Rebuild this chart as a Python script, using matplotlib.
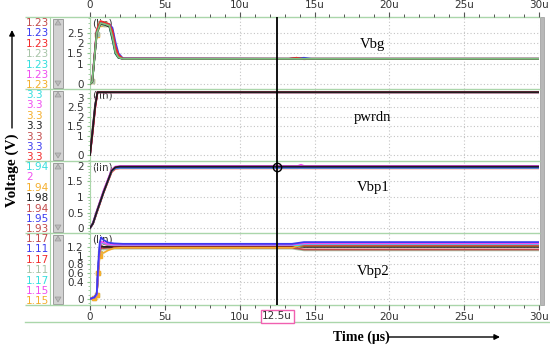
import matplotlib
matplotlib.use("Agg")
import matplotlib.pyplot as plt
from matplotlib.patches import Rectangle, Polygon
from matplotlib.ticker import MultipleLocator

# ---------------- data ----------------
x_ticks = [0, 5, 10, 15, 20, 25, 30]
x_tick_labels = ["0", "5u", "10u", "15u", "20u", "25u", "30u"]
cursor_time = 12.5
cursor_label = "12.5u"
signal_names = ["Vbg", "pwrdn", "Vbp1", "Vbp2"]

C_IRED = '#c24a4a'; C_BLUE = '#3c3cf0'; C_RED = '#f22a2a'; C_LGRN = '#a8c4a8'
C_CYAN = '#35dede'; C_MAG = '#f04ef0'; C_ORNG = '#f4ae2c'; C_BLK = '#1e1e1e'
C_GRN = '#7fbf7f'; C_SALM = '#ff9a8a'

# Vbg (V) vs time (us)
vbg_time = [0.0, 0.15, 0.45, 0.7, 1.0, 1.3, 1.5, 1.7, 1.9, 2.2, 13.3, 13.8, 14.3, 14.8, 30.0]
vbg_colors = [C_ORNG, C_MAG, C_CYAN, C_LGRN, C_IRED, C_BLUE, C_RED, C_BLK, C_GRN]
vbg_values = [
    [0.0, 0.15, 2.40, 2.95, 2.95, 2.90, 2.65, 1.80, 1.40, 1.24, 1.23, 1.23, 1.23, 1.23, 1.23],
    [0.0, 0.20, 2.60, 3.05, 2.97, 2.88, 2.40, 1.60, 1.32, 1.23, 1.23, 1.27, 1.22, 1.23, 1.23],
    [0.0, 0.10, 2.50, 3.00, 2.93, 2.82, 2.15, 1.48, 1.28, 1.23, 1.23, 1.23, 1.23, 1.23, 1.23],
    [0.0, 0.15, 2.45, 2.98, 2.95, 2.88, 2.50, 1.65, 1.33, 1.23, 1.23, 1.23, 1.23, 1.23, 1.23],
    [0.0, 0.12, 2.55, 3.02, 2.96, 2.86, 2.35, 1.62, 1.31, 1.23, 1.23, 1.28, 1.21, 1.23, 1.23],
    [0.0, 0.10, 2.55, 3.00, 2.96, 2.92, 2.75, 2.05, 1.50, 1.25, 1.23, 1.25, 1.28, 1.23, 1.23],
    [0.0, 0.10, 2.65, 3.08, 3.00, 2.92, 2.60, 1.85, 1.42, 1.24, 1.23, 1.28, 1.22, 1.23, 1.23],
    [0.0, 0.10, 2.50, 2.95, 2.90, 2.80, 2.20, 1.50, 1.28, 1.23, 1.23, 1.23, 1.23, 1.23, 1.23],
    [0.0, 0.12, 2.50, 2.98, 2.93, 2.85, 2.30, 1.55, 1.30, 1.23, 1.23, 1.23, 1.23, 1.23, 1.23],
]
vbg_readout = ["1.23", "1.23", "1.23", "1.23", "1.23", "1.23", "1.23"]
vbg_readout_colors = [C_IRED, C_BLUE, C_RED, C_LGRN, C_CYAN, C_MAG, C_ORNG]

# pwrdn
pwrdn_time = [0.0, 0.15, 0.35, 0.5, 30.0]
pwrdn_colors = [C_CYAN, C_MAG, C_ORNG, C_IRED, C_BLUE, C_RED, C_BLK]
pwrdn_values = [
    [0.0, 1.10, 2.60, 3.3, 3.3],
    [0.0, 1.00, 2.50, 3.3, 3.3],
    [0.0, 1.20, 2.70, 3.3, 3.3],
    [0.0, 1.05, 2.55, 3.3, 3.3],
    [0.0, 1.15, 2.65, 3.3, 3.3],
    [0.0, 1.00, 2.50, 3.3, 3.3],
    [0.0, 1.10, 2.60, 3.3, 3.3],
]
pwrdn_readout = ["3.3", "3.3", "3.3", "3.3", "3.3", "3.3", "3.3"]
pwrdn_readout_colors = [C_CYAN, C_MAG, C_ORNG, C_BLK, C_IRED, C_BLUE, C_RED]

# Vbp1
vbp1_time = [0.0, 0.2, 0.45, 0.9, 1.45, 1.7, 2.0, 13.9, 14.1, 14.3, 30.0]
vbp1_colors = [C_SALM, C_RED, C_IRED, C_ORNG, C_CYAN, C_BLUE, C_MAG, C_BLK]
vbp1_values = [
    [0.0, 0.13, 0.48, 1.12, 1.80, 1.90, 1.92, 1.92, 1.92, 1.92, 1.92],
    [0.0, 0.14, 0.50, 1.14, 1.82, 1.92, 1.93, 1.93, 1.96, 1.93, 1.93],
    [0.0, 0.15, 0.50, 1.15, 1.83, 1.93, 1.94, 1.94, 1.94, 1.94, 1.94],
    [0.0, 0.15, 0.52, 1.16, 1.84, 1.93, 1.94, 1.94, 1.94, 1.94, 1.94],
    [0.0, 0.16, 0.53, 1.17, 1.85, 1.93, 1.94, 1.94, 1.94, 1.94, 1.94],
    [0.0, 0.15, 0.52, 1.16, 1.85, 1.94, 1.95, 1.95, 1.95, 1.95, 1.95],
    [0.0, 0.17, 0.55, 1.20, 1.88, 1.98, 2.00, 2.00, 2.04, 2.00, 2.00],
    [0.0, 0.15, 0.52, 1.15, 1.85, 1.96, 1.98, 1.98, 1.98, 1.98, 1.98],
]
vbp1_readout = ["1.94", "2", "1.94", "1.98", "1.94", "1.95", "1.93"]
vbp1_readout_colors = [C_CYAN, C_MAG, C_ORNG, C_BLK, C_IRED, C_BLUE, C_IRED]

# Vbp2
vbp2_time = [0.0, 0.3, 0.45, 0.55, 0.65, 0.75, 0.9, 1.2, 1.6, 2.2, 13.5, 13.9, 14.3, 14.8, 30.0]
vbp2_colors = [C_LGRN, C_IRED, C_BLK, C_ORNG, C_RED, C_CYAN, C_MAG, C_BLUE]
vbp2_values = [
    [0.0, 0.03, 0.10, 0.60, 1.05, 1.15, 1.14, 1.15, 1.16, 1.16, 1.16, 1.14, 1.12, 1.12, 1.12],
    [0.0, 0.03, 0.10, 0.65, 1.10, 1.18, 1.17, 1.18, 1.18, 1.18, 1.18, 1.16, 1.14, 1.14, 1.14],
    [0.0, 0.04, 0.10, 0.70, 1.15, 1.22, 1.20, 1.20, 1.20, 1.20, 1.20, 1.21, 1.20, 1.20, 1.20],
    [0.0, 0.03, 0.08, 0.60, 1.00, 1.08, 1.06, 1.12, 1.17, 1.18, 1.18, 1.22, 1.23, 1.23, 1.23],
    [0.0, 0.03, 0.10, 0.65, 1.15, 1.30, 1.27, 1.24, 1.23, 1.23, 1.23, 1.25, 1.24, 1.24, 1.24],
    [0.0, 0.04, 0.10, 0.70, 1.20, 1.30, 1.28, 1.25, 1.24, 1.24, 1.24, 1.24, 1.26, 1.26, 1.26],
    [0.0, 0.04, 0.10, 0.70, 1.20, 1.32, 1.30, 1.26, 1.25, 1.25, 1.25, 1.27, 1.28, 1.28, 1.28],
    [0.0, 0.04, 0.12, 0.80, 1.30, 1.42, 1.36, 1.30, 1.28, 1.27, 1.27, 1.29, 1.31, 1.31, 1.31],
]
vbp2_readout = ["1.17", "1.11", "1.17", "1.11", "1.17", "1.15", "1.15"]
vbp2_readout_colors = [C_IRED, C_BLUE, C_RED, C_LGRN, C_CYAN, C_MAG, C_ORNG]

# per-panel y ranges / ticks
y_limits = [(-0.25, 3.28), (-0.32, 3.47), (-0.16, 2.16), (-0.14, 1.52)]
y_ticks = [[0, 1, 1.5, 2, 2.5], [0, 1, 1.5, 2, 2.5, 3], [0, 0.5, 1, 1.5, 2], [0, 0.4, 0.6, 0.8, 1, 1.2]]
y_tick_labels = [["0", "1", "1.5", "2", "2.5"], ["0", "1", "1.5", "2", "2.5", "3"],
                 ["0", "0.5", "1", "1.5", "2"], ["0", "0.4", "0.6", "0.8", "1", "1.2"]]
y_minor = [0.25, 0.25, 0.1, 0.1]

# ---------------- layout ----------------
W, H = 550, 348
fig = plt.figure(figsize=(5.5, 3.48), dpi=100)
fig.patch.set_facecolor('white')

def fbox(x0, y0, x1, y1):
    return [x0 / W, 1 - y1 / H, (x1 - x0) / W, (y1 - y0) / H]

SEP = '#aad6aa'
TXT = '#333333'
SANS = 'DejaVu Sans'
SERIF = 'Liberation Serif'

ov = fig.add_axes([0, 0, 1, 1])
ov.set_xlim(0, W); ov.set_ylim(H, 0); ov.axis('off'); ov.set_zorder(0)

AX_L, AX_R = 90, 539
panel_tops = [17, 89, 161, 233]
PH = 72

for y in [17, 89, 161, 233, 305]:
    ov.plot([25, 540], [y, y], color=SEP, lw=1.0, solid_capstyle='butt')
ov.plot([25, 550], [322, 322], color=SEP, lw=1.0)
ov.plot([50, 50], [17, 305], color=SEP, lw=0.8)
ov.add_patch(Rectangle((539.5, 17), 4, 288, facecolor='#b8b8b8', edgecolor='#9a9a9a', lw=0.5))

for top in panel_tops:
    ov.add_patch(Rectangle((53, top + 1.5), 10, PH - 3, facecolor='#d2d2d2', edgecolor='#9c9c9c', lw=0.7))
    ov.add_patch(Polygon([[55, top + 8], [61, top + 8], [58, top + 3]], closed=True, facecolor='#bbbbbb', edgecolor='#999999', lw=0.5))
    ov.add_patch(Polygon([[55, top + PH - 8], [61, top + PH - 8], [58, top + PH - 3]], closed=True, facecolor='#bbbbbb', edgecolor='#999999', lw=0.5))

times = [vbg_time, pwrdn_time, vbp1_time, vbp2_time]
values = [vbg_values, pwrdn_values, vbp1_values, vbp2_values]
colors = [vbg_colors, pwrdn_colors, vbp1_colors, vbp2_colors]
readouts = [vbg_readout, pwrdn_readout, vbp1_readout, vbp2_readout]
readout_colors = [vbg_readout_colors, pwrdn_readout_colors, vbp1_readout_colors, vbp2_readout_colors]
name_pos = [(0.63, 0.62), (0.63, 0.61), (0.63, 0.63), (0.63, 0.46)]

axes = []
for i, top in enumerate(panel_tops):
    ax = fig.add_axes(fbox(AX_L, top, AX_R, top + PH))
    ax.set_zorder(2)
    ax.set_facecolor('none')
    ax.set_xlim(0, 30)
    ax.set_ylim(*y_limits[i])
    for s in ax.spines.values():
        s.set_visible(False)
    ax.spines['left'].set_visible(True)
    ax.spines['left'].set_color(SEP)
    ax.set_yticks(y_ticks[i])
    ax.set_yticklabels(y_tick_labels[i])
    ax.yaxis.set_minor_locator(MultipleLocator(y_minor[i]))
    ax.tick_params(axis='y', which='major', length=2.5, width=0.8, color='#8fc88f',
                   labelsize=7.5, labelcolor=TXT, pad=2)
    ax.tick_params(axis='y', which='minor', length=1.5, width=0.6, color='#8fc88f')
    ax.set_xticks(x_ticks)
    ax.xaxis.set_minor_locator(MultipleLocator(1))
    ax.grid(True, which='major', color='#c4c4c4', linestyle=(0, (1, 2)), lw=0.8)
    if i in (0, 3):
        top_side = (i == 0)
        ax.tick_params(axis='x', which='both', top=top_side, bottom=not top_side,
                       labeltop=top_side, labelbottom=not top_side, direction='out',
                       color='#555555', labelsize=7.5, labelcolor=TXT, pad=1.5)
        ax.tick_params(axis='x', which='major', length=3.5, width=0.8)
        ax.tick_params(axis='x', which='minor', length=2.2, width=0.7)
        ax.set_xticklabels(x_tick_labels)
    else:
        ax.tick_params(axis='x', which='both', top=False, bottom=False, labeltop=False, labelbottom=False)

    ax.text(0.004, 0.975, '(lin)', transform=ax.transAxes, ha='left', va='top',
            fontsize=7.5, color=TXT, family=SANS, zorder=1)

    for vals, col in zip(values[i], colors[i]):
        mk = dict()
        if col in (C_ORNG, C_LGRN) and i in (0, 3):
            mk = dict(marker='s', ms=2.2, markevery=[1, 2, 3, 4], mec=col, mfc=col)
        ax.plot(times[i], vals, color=col, lw=1.3, solid_joinstyle='round', zorder=3, **mk)

    ax.axvline(cursor_time, color='black', lw=1.3, zorder=5)
    nx, ny = name_pos[i]
    ax.text(nx, ny, signal_names[i], transform=ax.transAxes, ha='center', va='center',
            family=SERIF, fontsize=10.5, color='black', zorder=6)
    axes.append(ax)

    # readout column (last row is cut by the panel border)
    lax = fig.add_axes(fbox(0, top, 50, top + PH))
    lax.set_xlim(0, 50); lax.set_ylim(PH, 0); lax.axis('off')
    for k, (txt, c) in enumerate(zip(readouts[i], readout_colors[i])):
        t = lax.text(26, 6.0 + k * 10.4, txt, ha='left', va='center', fontsize=7.5, color=c,
                     family=SANS)
        t.set_clip_on(True)
        t.set_clip_path(lax.patch)

axes[2].plot([cursor_time], [vbp1_values[7][-1]], marker='o', ms=6, mfc='none', mec='black', mew=1.0, zorder=6)

axes[3].text(cursor_time, -0.155, cursor_label, transform=axes[3].get_xaxis_transform(),
             ha='center', va='center', fontsize=7.5, color=TXT, family=SANS,
             bbox=dict(boxstyle='square,pad=0.15', facecolor='white', edgecolor='#f060b0', lw=1.0),
             zorder=7, clip_on=False)

ov.text(12, 170, 'Voltage (V)', rotation=90, ha='center', va='center', family=SERIF,
        fontweight='bold', fontsize=11, color='black')
ov.annotate('', xy=(12, 30), xytext=(12, 128),
            arrowprops=dict(arrowstyle='-|>', color='black', lw=1.0, mutation_scale=8, shrinkA=0, shrinkB=0))
ov.text(333, 337, 'Time (\u03bcs)', ha='left', va='center', family=SERIF,
        fontweight='bold', fontsize=10, color='black')
ov.annotate('', xy=(500, 337), xytext=(389, 337),
            arrowprops=dict(arrowstyle='-|>', color='black', lw=1.0, mutation_scale=8, shrinkA=0, shrinkB=0))

fig.savefig('out.png', dpi=100, facecolor='white')
